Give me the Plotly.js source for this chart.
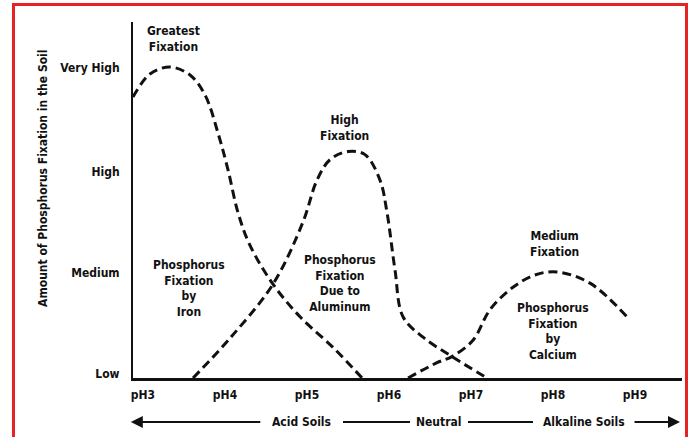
<!DOCTYPE html>
<html>
<head>
<meta charset="utf-8">
<script src="https://cdn.plot.ly/plotly-3.0.1.min.js"></script>
<style>
html,body{margin:0;padding:0;background:#fff;}
#chart{width:691px;height:437px;}
</style>
</head>
<body>
<div id="chart"></div>
<script>
// pH values along the x axis
const phTicks = [3, 4, 5, 6, 7, 8, 9];
const phLabels = ['pH3', 'pH4', 'pH5', 'pH6', 'pH7', 'pH8', 'pH9'];

// Fixation levels on the y axis
const levelPos = [0.04, 1.03, 2.02, 3.04];
const levelNames = ['Low', 'Medium', 'High', 'Very High'];

// Phosphorus fixation by iron (Greatest Fixation)
const ironPH  = [2.878, 3.085, 3.329, 3.573, 3.756, 3.915, 4.037, 4.159, 4.305, 4.585, 4.915, 5.317, 5.671];
const ironFix = [2.755, 2.98, 3.049, 2.97, 2.775, 2.40, 2.04, 1.62, 1.30, 0.92, 0.60, 0.30, 0.0];

// Phosphorus fixation due to aluminum (High Fixation)
const alPH  = [3.610, 4.061, 4.585, 4.951, 5.122, 5.280, 5.500, 5.707, 5.890, 5.976, 6.073, 6.171, 6.415, 6.768, 7.195];
const alFix = [0.0, 0.39, 0.92, 1.53, 1.94, 2.14, 2.22, 2.19, 1.94, 1.62, 1.06, 0.60, 0.40, 0.21, 0.0];

// Phosphorus fixation by calcium (Medium Fixation)
const caPH  = [6.232, 6.585, 6.768, 7.024, 7.232, 7.512, 7.780, 8.049, 8.451, 8.902];
const caFix = [0.0, 0.15, 0.21, 0.37, 0.67, 0.89, 1.01, 1.04, 0.93, 0.60];

const FONT = '"Liberation Sans Narrow", "DejaVu Sans Condensed", sans-serif';
const lineStyle = {color: '#111', width: 3, dash: '9px,5px', shape: 'spline', smoothing: 1};

const traces = [
  {x: ironPH, y: ironFix, name: 'Iron', mode: 'lines', line: lineStyle, cliponaxis: false},
  {x: alPH, y: alFix, name: 'Aluminum', mode: 'lines', line: lineStyle, cliponaxis: false},
  {x: caPH, y: caFix, name: 'Calcium', mode: 'lines', line: lineStyle, cliponaxis: false}
];

function txt(text, x, y, ref) {
  return {text: text, x: x, y: y, xref: ref || 'x', yref: ref || 'y', showarrow: false,
          xanchor: 'center', yanchor: 'middle', align: 'center'};
}

const annotations = [
  txt('Greatest<br>Fixation', 3.366, 3.324),
  txt('High<br>Fixation', 5.463, 2.451),
  txt('Phosphorus<br>Fixation<br>by<br>Iron', 3.561, 0.873),
  txt('Phosphorus<br>Fixation<br>Due to<br>Aluminum', 5.402, 0.931),
  txt('Medium<br>Fixation', 8.024, 1.314),
  txt('Phosphorus<br>Fixation<br>by<br>Calcium', 8.0, 0.456),
  Object.assign(txt('Amount of Phosphorus Fixation in the Soil', -0.164, 0.562, 'paper'), {textangle: -90}),
  txt('Acid Soils', 0.3078, -0.1236, 'paper'),
  txt('Neutral', 0.5574, -0.1236, 'paper'),
  txt('Alkaline Soils', 0.8215, -0.1236, 'paper'),
  {text: '', x: -0.004, y: -0.1236, xref: 'paper', yref: 'paper', showarrow: true,
   ax: 131, ay: 0, arrowhead: 2, arrowsize: 1.2, arrowwidth: 2, arrowcolor: '#111'},
  {text: '', x: 0.9964, y: -0.1236, xref: 'paper', yref: 'paper', showarrow: true,
   ax: -47, ay: 0, arrowhead: 2, arrowsize: 1.2, arrowwidth: 2, arrowcolor: '#111'}
];

const shapes = [
  {type: 'line', xref: 'paper', yref: 'paper', x0: 0.3825, x1: 0.5046, y0: -0.1236, y1: -0.1236,
   line: {color: '#111', width: 2}},
  {type: 'line', xref: 'paper', yref: 'paper', x0: 0.6102, x1: 0.7286, y0: -0.1236, y1: -0.1236,
   line: {color: '#111', width: 2}},
  {type: 'rect', xref: 'paper', yref: 'paper', x0: -0.2177, x1: 1.0082, y0: -0.3, y1: 1.0492,
   line: {color: '#e52325', width: 3}, fillcolor: 'rgba(0,0,0,0)'}
];

const layout = {
  width: 691, height: 437,
  margin: {l: 133, r: 9, t: 22, b: 59},
  paper_bgcolor: '#fff', plot_bgcolor: '#fff',
  showlegend: false,
  font: {family: FONT, size: 12, color: '#111', weight: 'bold'},
  xaxis: {range: [2.878, 9.573], tickvals: phTicks, ticktext: phLabels, showgrid: false,
          zeroline: false, showline: true, linecolor: '#111', linewidth: 2.5, ticks: '',
          ticklabelstandoff: 4, fixedrange: true},
  yaxis: {range: [0, 3.49], tickvals: levelPos, ticktext: levelNames, showgrid: false,
          zeroline: false, showline: true, linecolor: '#111', linewidth: 2, ticks: '',
          ticklabelstandoff: 9, fixedrange: true},
  annotations: annotations,
  shapes: shapes
};

Plotly.newPlot('chart', traces, layout, {displayModeBar: false, staticPlot: true});
</script>
</body>
</html>
